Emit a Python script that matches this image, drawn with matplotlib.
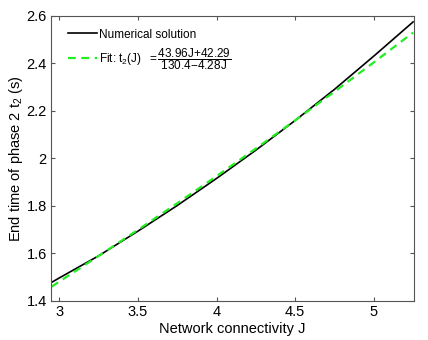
import matplotlib
matplotlib.use("Agg")
import matplotlib.pyplot as plt

plt.rcParams['font.family'] = ['Liberation Sans', 'DejaVu Sans']
plt.rcParams['mathtext.fontset'] = 'custom'
plt.rcParams['mathtext.rm'] = 'Liberation Sans'
plt.rcParams['mathtext.it'] = 'Liberation Sans'
plt.rcParams['mathtext.default'] = 'regular'

J = [2.95, 3.0, 3.25, 3.5, 3.75, 4.0, 4.25, 4.5, 4.75, 5.0, 5.25]
numerical = [1.478, 1.497, 1.590, 1.694, 1.802, 1.916, 2.035, 2.160, 2.291, 2.431, 2.575]
fit = [1.460, 1.4815, 1.5895, 1.6995, 1.8114, 1.9256, 2.0419, 2.1604, 2.2813, 2.4045, 2.5302]

xticks = [3, 3.5, 4, 4.5, 5]
xticklabels = ['3', '3.5', '4', '4.5', '5']
yticks = [1.4, 1.6, 1.8, 2.0, 2.2, 2.4, 2.6]
yticklabels = ['1.4', '1.6', '1.8', '2', '2.2', '2.4', '2.6']

fig = plt.figure(figsize=(4.28, 3.4), dpi=100)
ax = fig.add_axes([0.119, 0.115, 0.848, 0.838])
ax.plot(J, numerical, color='black', lw=1.2, label='Numerical solution')
ax.plot(J, fit, color='#22ee22', lw=1.6, ls=(0, (3.5, 2.5)),
        label=r'Fit: t$_2$(J) $\ =\dfrac{43.96J{+}42.29}{130.4{-}4.28J}$')
ax.set_xlim(2.946, 5.255)
ax.set_ylim(1.4, 2.6)
ax.set_xticks(xticks)
ax.set_xticklabels(xticklabels)
ax.set_yticks(yticks)
ax.set_yticklabels(yticklabels)
ax.tick_params(direction='in', top=True, right=True, labelsize=10.5, length=3,
               color='#555555', pad=3)
for s in ax.spines.values():
    s.set_color('#555555')
    s.set_linewidth(0.8)
ax.set_xlabel('Network connectivity J', fontsize=10.5, labelpad=2)
ax.set_ylabel('End time of phase 2 t$_2$ (s)', fontsize=10.5, labelpad=1)
leg = ax.legend(loc='upper left', bbox_to_anchor=(0.025, 0.985), frameon=False,
                fontsize=8.5, handlelength=2.4, handletextpad=0.2, labelspacing=0.45,
                borderaxespad=0.3)
fig.savefig('out.png', dpi=100)
